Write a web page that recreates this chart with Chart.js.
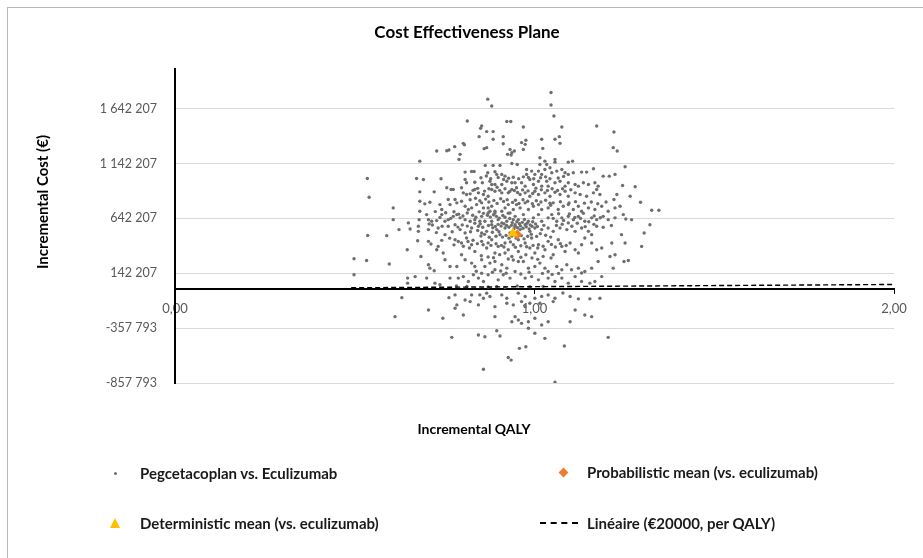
<!DOCTYPE html>
<html>
<head>
<meta charset="utf-8">
<script src="https://cdn.jsdelivr.net/npm/chart.js@4.4.1/dist/chart.umd.min.js"></script>
<style>
  body { margin: 0; background: #fff; }
  #wrap { position: relative; width: 923px; height: 558px; font-family: Lato, sans-serif; }
  #frame { position: absolute; left: 7px; top: 7px; right: 0; bottom: 0; border-left: 1px solid #b8b8b8; border-top: 1px solid #b8b8b8; pointer-events: none; }
  .axTitle { position: absolute; font-weight: bold; color: #000; white-space: nowrap; transform: translate(-50%, -50%); }
  .leg { position: absolute; height: 18px; line-height: 18px; font-size: 15px; font-weight: bold; color: #1a1a1a; white-space: nowrap; }
  .mk { position: absolute; }
</style>
</head>
<body>
<div id="wrap">
  <canvas id="cePlane" width="923" height="558"></canvas>
  <div id="frame"></div>
  <div class="axTitle" id="yTitle" style="left:42px;top:202px;font-size:15px;transform:translate(-50%,-50%) rotate(-90deg)"></div>
  <div class="axTitle" id="xTitle" style="left:474px;top:428px;font-size:14px"></div>
</div>
<script>
// PSA draws: [incremental QALY, incremental cost (€)]
const pegDraws = [
  // top
  [0.870,1729000],[0.881,1667000],[1.046,1790000],[1.046,1676000],[0.813,1530000],[0.923,1525000],[0.934,1525000],[1.054,1576000],[0.853,1484000],[0.969,1475000],[1.076,1475000],[1.173,1484000],[0.850,1463000],
  [0.867,1433000],[0.885,1433000],[1.221,1430000],[0.846,1387000],[0.913,1387000],[0.885,1363000],[1.020,1363000],[1.057,1363000],[1.069,1387000],[0.802,1326000],[0.805,1314000],[0.913,1323000],[0.964,1333000],[0.976,1354000],[1.071,1326000],[0.778,1296000],[0.867,1287000],[0.860,1278000],[1.023,1280000],[1.219,1287000],[0.974,1317000],
  [0.728,1256000],[0.756,1259000],[0.762,1265000],[0.932,1271000],[0.937,1241000],[0.925,1226000],[0.935,1219000],[0.969,1271000],[1.230,1256000],[0.793,1226000],[0.790,1180000],[0.681,1164000],[1.015,1195000],[1.029,1164000],[1.015,1134000],[1.034,1134000],[1.057,1180000],[1.057,1155000],[1.094,1155000],[1.106,1164000],[0.863,1125000],[0.885,1125000],[0.937,1143000],[0.904,1125000],[0.952,1134000],[1.252,1113000],[0.944,1256000],[1.164,1095000],[1.043,1104000],[0.978,1088000],[1.029,1088000],[1.076,1088000],
  // upper middle
  [0.807,1064000],[0.825,1070000],[0.832,1070000],[0.870,1058000],[0.890,1067000],[0.895,1043000],[0.909,1043000],[0.918,1027000],[0.672,1006000],[0.691,997000],[0.740,1003000],[0.807,997000],[0.535,1006000],[0.978,1043000],[0.992,1073000],[1.001,1043000],[1.011,1073000],[1.020,1043000],[1.048,1058000],[1.062,1073000],[1.085,1058000],[1.094,1043000],[1.108,1058000],[1.131,1064000],[1.145,1064000],[1.191,1027000],[1.208,1027000],[1.224,1043000],
  [0.851,1012000],[0.866,1028000],[0.878,1003000],[0.899,1015000],[0.914,996000],[0.928,1008000],[0.941,1017000],[0.956,1004000],[0.969,1021000],[0.983,1016000],[0.998,1004000],[1.017,1012000],[1.031,1021000],[1.043,1004000],[1.066,1011000],[1.081,1025000],
  [0.923,981000],[0.937,967000],[0.946,967000],[0.811,967000],[0.834,972000],[0.855,967000],[0.876,981000],[0.881,951000],[0.890,951000],[0.909,951000],[0.756,921000],[0.768,905000],[0.774,905000],[0.964,967000],[0.974,936000],[0.987,997000],[0.997,951000],[1.011,981000],[1.020,936000],[1.034,981000],[1.038,936000],[1.057,967000],[1.071,981000],[1.085,936000],[1.094,967000],[1.113,951000],[1.122,936000],[1.136,967000],[1.150,951000],[1.168,967000],[1.177,936000],[1.245,942000],[1.280,930000],
  [0.829,898000],[0.842,916000],[0.861,891000],[0.873,912000],[0.896,926000],[0.903,898000],[0.918,912000],[0.931,888000],[0.944,896000],[0.953,878000],[0.967,902000],[0.982,893000],[0.995,869000],[1.004,918000],[1.019,903000],[1.036,897000],[1.049,912000],[1.064,897000],[1.078,912000],[1.101,903000],
  [0.681,884000],[0.721,884000],[0.797,921000],[0.802,875000],[0.811,860000],[0.821,866000],[0.834,905000],[0.844,875000],[0.858,860000],[0.871,844000],[0.881,905000],[0.890,890000],[0.909,875000],[0.927,875000],[0.937,905000],[0.950,921000],[0.960,860000],[0.974,875000],[0.987,844000],[1.001,890000],[1.011,860000],[1.029,875000],[1.043,844000],[1.057,881000],[1.071,860000],[1.085,890000],[1.094,844000],[1.113,875000],[1.127,860000],[1.145,844000],[1.164,875000],[1.173,905000],[1.182,860000],[1.266,844000],[0.540,835000],[1.229,860000],
  // core
  [0.821,812000],[0.836,826000],[0.848,803000],[0.864,818000],[0.873,792000],[0.887,806000],[0.896,779000],[0.906,821000],[0.914,797000],[0.924,812000],[0.939,787000],[0.947,808000],[0.957,778000],[0.968,812000],[0.981,798000],[0.994,776000],[1.005,803000],[1.018,791000],[1.031,808000],[1.045,762000],
  [1.043,781000],[1.072,794000],[1.096,783000],[1.114,795000],[1.139,781000],[1.158,792000],[1.176,776000],[1.199,791000],
  [0.695,775000],[0.709,789000],[0.737,768000],[0.742,723000],[0.760,814000],[0.765,768000],[0.779,814000],[0.784,784000],[0.797,798000],[0.807,753000],[0.816,723000],[0.825,738000],[0.839,768000],[0.853,784000],[0.858,738000],[0.871,738000],[0.876,707000],[0.881,753000],[0.890,707000],[0.909,707000],[0.918,738000],[0.927,768000],[0.932,692000],[0.941,723000],[0.950,768000],[0.960,738000],[0.974,784000],[0.983,723000],[0.997,753000],[1.011,768000],[1.020,723000],[1.038,738000],[1.052,784000],[1.066,723000],[1.080,753000],[1.094,768000],[1.108,723000],[1.122,753000],[1.131,707000],[1.150,738000],[1.168,723000],[1.187,753000],[1.205,707000],[1.224,738000],[1.238,753000],[0.607,738000],[1.221,814000],[1.295,789000],[0.681,798000],
  [0.724,704000],[0.737,651000],[0.753,693000],[0.767,642000],[0.776,703000],[0.789,681000],[0.801,664000],[0.813,692000],[0.828,671000],[0.837,652000],
  [0.846,702000],[0.858,688000],[0.869,671000],[0.877,654000],[0.886,676000],[0.894,661000],[0.902,645000],[0.912,668000],[0.918,652000],[0.927,690000],[0.931,641000],[0.938,604000],[0.951,612000],[0.958,594000],[0.966,606000],[0.972,632000],[0.979,597000],[0.988,583000],[0.995,611000],[1.003,592000],
  [1.052,642000],[1.067,684000],[1.081,624000],[1.097,682000],[1.112,651000],[1.128,642000],[1.136,688000],[1.151,612000],[1.166,665000],[1.183,648000],
  [0.681,707000],[0.679,631000],[0.700,677000],[0.705,631000],[0.714,616000],[0.728,622000],[0.742,677000],[0.751,616000],[0.760,631000],[0.774,661000],[0.784,677000],[0.793,647000],[0.807,631000],[0.821,616000],[0.834,631000],[0.848,616000],[0.853,661000],[0.862,616000],[0.871,692000],[0.881,616000],[0.890,692000],[0.899,631000],[0.909,601000],[0.923,616000],[0.941,631000],[0.946,585000],[0.946,661000],[0.955,631000],[0.969,677000],[0.983,616000],[0.997,647000],[1.011,677000],[1.020,616000],[1.038,647000],[1.048,677000],[1.062,616000],[1.076,647000],[1.094,661000],[1.108,631000],[1.122,661000],[1.140,616000],[1.159,647000],[1.173,631000],[1.191,661000],[1.205,631000],[1.224,647000],[1.247,677000],[1.270,631000],[0.607,631000],[1.326,716000],[1.346,716000],[1.254,637000],
  [0.716,582000],[0.727,513000],[0.743,571000],[0.771,521000],[0.787,563000],[0.799,583000],[0.813,572000],[0.822,521000],[0.834,598000],
  [0.849,592000],[0.856,561000],[0.872,577000],[0.884,556000],[0.891,569000],[0.899,588000],[0.907,572000],[0.915,593000],[0.922,578000],[0.929,561000],[0.936,579000],[0.943,548000],[0.953,557000],[0.961,574000],[0.968,553000],[0.977,566000],[0.985,547000],[0.993,571000],[1.008,568000],[1.026,579000],
  [1.061,578000],[1.077,589000],[1.104,571000],[1.119,598000],[1.141,567000],[1.165,588000],[1.191,562000],[1.214,578000],
  [0.623,540000],[0.654,546000],[0.677,524000],[0.705,540000],[0.732,555000],[0.751,494000],[0.760,570000],[0.779,585000],[0.793,540000],[0.807,509000],[0.825,555000],[0.844,570000],[0.853,509000],[0.867,524000],[0.881,585000],[0.895,540000],[0.904,494000],[0.918,555000],[0.932,509000],[0.946,570000],[0.960,540000],[0.974,585000],[0.987,524000],[1.001,555000],[1.020,540000],[1.038,555000],[1.052,524000],[1.071,555000],[1.090,540000],[1.113,524000],[1.131,555000],[1.150,524000],[1.159,494000],[1.173,570000],[1.094,601000],[1.242,494000],[1.305,509000],[1.321,585000],[0.649,601000],[0.677,570000],[0.707,592000],
  [0.842,532000],[0.851,482000],[0.861,497000],[0.874,471000],[0.883,516000],[0.893,479000],[0.901,521000],[0.911,472000],[0.921,486000],[0.929,462000],[0.937,481000],[0.949,462000],[0.963,487000],[0.971,456000],[0.981,479000],[0.991,498000],[1.006,478000],[1.016,503000],[1.031,488000],[1.045,472000],
  [0.536,487000],[0.589,485000],[0.675,439000],[0.705,433000],[0.712,409000],[0.732,387000],[0.728,357000],[0.646,357000],[0.779,448000],[0.797,418000],[0.811,464000],[0.825,402000],[0.834,341000],[0.853,433000],[0.867,372000],[0.881,448000],[0.890,327000],[0.899,387000],[0.918,418000],[0.927,357000],[0.941,402000],[0.955,341000],[0.955,448000],[0.974,418000],[0.992,464000],[0.987,372000],[1.001,327000],[1.011,402000],[1.029,357000],[1.038,433000],[1.052,311000],[1.066,448000],[1.076,387000],[1.085,341000],[1.099,418000],[1.113,357000],[1.122,327000],[1.131,402000],[1.140,464000],[1.159,418000],[1.173,357000],[1.187,372000],[1.215,418000],[1.252,418000],[1.298,387000],
  [0.742,442000],[0.764,462000],[0.776,401000],[0.788,432000],[0.802,388000],[0.819,373000],
  [0.815,431000],[0.829,443000],[0.841,412000],[0.857,402000],[0.871,419000],[0.879,396000],[0.893,411000],[0.908,396000],[0.915,381000],[0.933,428000],[0.947,379000],[0.962,393000],[0.978,384000],[0.996,396000],[1.009,372000],[1.024,388000],[1.047,405000],[1.058,382000],[1.072,412000],[1.088,395000],
  // lower middle, above zero
  [0.684,295000],[0.746,327000],[0.751,265000],[0.797,311000],[0.807,265000],[0.825,235000],[0.834,204000],[0.853,265000],[0.862,204000],[0.876,235000],[0.890,250000],[0.909,220000],[0.923,189000],[0.937,295000],[0.955,250000],[0.918,327000],[0.969,250000],[0.983,189000],[1.001,204000],[1.015,235000],[1.029,189000],[1.038,158000],[1.062,204000],[1.076,174000],[1.090,220000],[1.103,174000],[1.122,189000],[1.140,158000],[1.159,189000],[1.177,250000],[1.210,295000],[1.224,311000],[1.249,250000],[1.261,259000],[1.219,189000],[0.498,274000],[0.533,259000],[0.596,226000],
  [0.852,302000],[0.871,291000],[0.886,283000],[0.903,312000],[0.927,272000],[0.941,263000],[0.962,288000],[0.976,311000],[0.993,282000],[1.009,269000],[1.024,296000],[1.046,281000],
  [0.705,220000],[0.709,189000],[0.721,165000],[0.765,204000],[0.784,204000],[0.765,98000],[0.788,98000],[0.647,98000],[0.647,52000],[0.668,112000],[0.700,98000],[0.723,52000],[0.737,37000],[0.802,112000],[0.816,67000],[0.830,128000],[0.844,98000],[0.858,67000],[0.871,128000],[0.890,174000],[0.899,82000],[0.913,128000],[0.932,98000],[0.946,158000],[0.974,98000],[0.992,112000],[1.011,82000],[1.038,98000],[1.057,67000],[1.076,98000],[1.094,52000],[1.113,112000],[1.131,67000],[1.168,67000],[1.187,112000],[1.131,144000],[1.154,52000],[0.498,128000],
  [0.838,161000],[0.853,142000],[0.883,151000],[0.906,163000],[0.921,143000],[0.962,136000],[0.985,152000],[1.022,141000],[1.049,132000],[1.067,141000],
  [0.871,18000],[0.895,22000],[0.918,14000],[0.952,27000],[0.987,19000],[1.024,23000],[0.812,21000],[0.783,26000],
  // below zero
  [0.631,-80000],[0.762,-80000],[0.779,-55000],[0.807,-101000],[0.825,-55000],[0.848,-55000],[0.858,-85000],[0.867,-39000],[0.876,-70000],[0.909,-55000],[0.923,-85000],[0.955,-39000],[0.974,-70000],[1.001,-85000],[1.020,-70000],[1.038,-55000],[1.057,-85000],[1.079,-37000],[1.099,-70000],[1.122,-91000],[1.154,-91000],[1.182,-85000],
  [0.784,-146000],[0.779,-177000],[0.821,-116000],[0.844,-146000],[0.890,-162000],[0.890,-253000],[0.923,-131000],[0.941,-146000],[0.964,-116000],[0.974,-162000],[0.987,-131000],[1.015,-131000],[1.052,-116000],[1.113,-192000],[1.140,-238000],[1.159,-253000],[0.705,-192000],[0.745,-268000],[0.802,-238000],[0.612,-253000],[0.946,-253000],
  [0.937,-299000],[0.955,-284000],[0.964,-314000],[0.983,-299000],[1.001,-268000],[1.020,-329000],[1.038,-299000],[1.099,-299000],[0.983,-359000],[1.001,-405000],[1.029,-451000],[0.895,-381000],[0.904,-430000],[0.844,-421000],[0.862,-436000],[0.770,-442000],[1.205,-442000],
  [0.958,-542000],[0.976,-528000],[1.083,-521000],[0.927,-625000],[0.935,-649000],[0.858,-732000],[1.057,-850000]
]
const probMean = [[0.952, 495000]]
const detMean = [[0.940, 507000]]
const wtpLine = [[0.49, 9800], [2.0, 40000]]   // €20000 per QALY

const xTicks = [0, 1, 2]
const yTicks = [-857793, -357793, 142207, 642207, 1142207, 1642207]

const labels = ['Pegcetacoplan vs. Eculizumab', 'Probabilistic mean (vs. eculizumab)', 'Deterministic mean (vs. eculizumab)', 'Linéaire (€20000, per QALY)']
const xTitleText = 'Incremental QALY'
const yTitleText = 'Incremental Cost (€)'

const toXY = (arr) => arr.map((p) => ({ x: p[0], y: p[1] }))

//thousands with spaces, like the excel export
function spaced(v) {
    const s = Math.abs(Math.round(v)).toString().replace(/\B(?=(\d{3})+(?!\d))/g, ' ')
    return (v < 0 ? '-' : '') + s
}

Chart.defaults.font.family = 'Lato, sans-serif'
Chart.defaults.color = '#595959'

const ctx = document.getElementById('cePlane').getContext('2d')
const cePlane = new Chart(ctx, {
    type: 'scatter',
    data: {
        datasets: [{
            label: labels[0],
            data: toXY(pegDraws),
            pointRadius: 1.7,
            pointBackgroundColor: '#6e6e6e',
            pointBorderWidth: 0,
            order: 4
        }, {
            label: labels[1],
            data: toXY(probMean),
            pointStyle: 'rectRot',
            pointRadius: 5,
            pointBackgroundColor: '#ED7D31',
            pointBorderWidth: 0,
            order: 2
        }, {
            label: labels[2],
            data: toXY(detMean),
            pointStyle: 'triangle',
            pointRadius: 6,
            pointBackgroundColor: '#FFC000',
            pointBorderWidth: 0,
            order: 1
        }, {
            label: labels[3],
            data: toXY(wtpLine),
            showLine: true,
            borderColor: '#000',
            borderWidth: 1.4,
            borderDash: [5, 3],
            pointRadius: 0,
            order: 3
        }]
    },
    options: {
        responsive: false,
        animation: false,
        layout: { padding: { top: 15, left: 40, right: 29, bottom: 175 } },
        plugins: {
            legend: { display: false },
            tooltip: { enabled: false },
            title: {
                display: true,
                text: 'Cost Effectiveness Plane',
                color: '#000',
                font: { size: 17, weight: 'bold' },
                padding: { top: 7, bottom: 27 }
            }
        },
        scales: {
            x: {
                type: 'linear',
                min: 0,
                max: 2,
                position: { y: 0 },
                afterBuildTicks: (s) => { s.ticks = xTicks.map((v) => ({ value: v })) },
                ticks: {
                    callback: (v) => v.toFixed(2).replace('.', ','),
                    font: { size: 13 },
                    padding: 8,
                    maxRotation: 0,
                    autoSkip: false
                },
                grid: { drawOnChartArea: false, drawTicks: true, tickLength: 4, color: '#000' },
                border: { color: '#000', width: 2 }
            },
            y: {
                type: 'linear',
                min: -857793,
                max: 2000000,
                afterBuildTicks: (s) => { s.ticks = yTicks.map((v) => ({ value: v })) },
                ticks: { callback: (v) => spaced(v), font: { size: 12.5 }, padding: 18 },
                grid: { color: '#d9d9d9', drawTicks: false },
                border: { color: '#000', width: 2 },
                afterFit: (s) => { s.width = 135 }
            }
        }
    }
})

document.getElementById('xTitle').textContent = xTitleText
document.getElementById('yTitle').textContent = yTitleText

//Legend in two columns, like the original
const wrap = document.getElementById('wrap')
const legendSpots = [[115, 140, 473], [563, 587, 472], [115, 140, 523], [559, 587, 523]]
cePlane.data.datasets.forEach((ds, i) => {
    const [mx, tx, cy] = legendSpots[i]
    const mk = document.createElement('div')
    mk.className = 'mk'
    if (i === 0) {
        mk.style.cssText = `left:${mx - 1.5}px;top:${cy - 1.5}px;width:3px;height:3px;border-radius:50%;background:${ds.pointBackgroundColor}`
    } else if (i === 1) {
        mk.style.cssText = `left:${mx - 3.5}px;top:${cy - 3.5}px;width:7px;height:7px;transform:rotate(45deg);background:${ds.pointBackgroundColor}`
    } else if (i === 2) {
        mk.style.cssText = `left:${mx - 5}px;top:${cy - 5}px;width:0;height:0;border-left:5px solid transparent;border-right:5px solid transparent;border-bottom:10px solid ${ds.pointBackgroundColor}`
    } else {
        mk.style.cssText = `left:${mx - 19}px;top:${cy - 1}px;width:38px;height:0;border-top:2px dashed ${ds.borderColor}`
    }
    wrap.appendChild(mk)
    const txt = document.createElement('div')
    txt.className = 'leg'
    txt.style.left = tx + 'px'
    txt.style.top = (cy - 9) + 'px'
    txt.textContent = ds.label
    wrap.appendChild(txt)
})
</script>
</body>
</html>
